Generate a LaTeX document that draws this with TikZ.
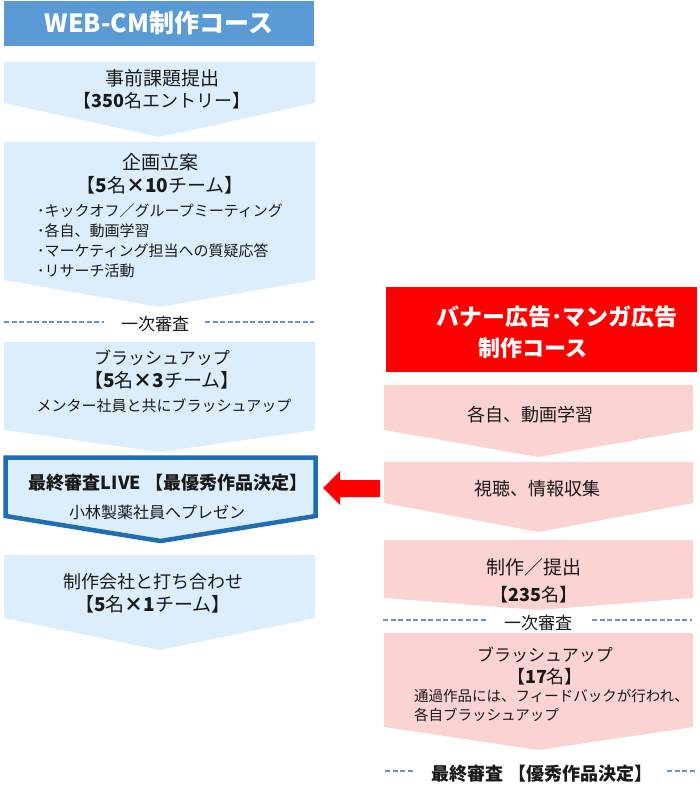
\documentclass[tikz,border=0pt]{standalone}
\usepackage{fontspec}
\setmainfont{Noto Sans CJK JP}
\definecolor{lblue}{HTML}{DCEEFB}
\definecolor{lpink}{HTML}{FBD3D3}
\definecolor{hblue}{HTML}{5B9BD5}
\definecolor{dblue}{HTML}{1F6DB3}
\definecolor{dashc}{HTML}{6E93C2}
\definecolor{hred}{HTML}{FF0000}
\newcommand\chevshape[6]{\fill[#1] (#2,#4) -- (#3,#4) -- (#3,#5) -- ({(#2+#3)/2},#6) -- (#2,#5) -- cycle;}
\begin{document}
\begin{tikzpicture}[x=1pt,y=-1pt,
  fs/.style={font=\fontsize{#1}{#1}\selectfont},
  txt/.style={inner sep=0pt, text=black!90, fs=#1},
  txt/.default=18,
  hdr/.style={inner sep=0pt, text=white, font=\fontsize{#1}{#1}\selectfont\bfseries},
  hdr/.default=24,
  dline/.style={draw=dashc, line width=1.4pt, dash pattern=on 5pt off 2.5pt},
  lbox/.style={lblue},
  rbox/.style={lpink}]
\useasboundingbox (0,0) rectangle (700,794);
\fill[white] (0,0) rectangle (700,794);

% ---- left column ----
\fill[hblue] (4,1) rectangle (314,46);
\node[hdr=25] (hL) at (159,23) {WEB-CM制作コース};

\chevshape{lbox}{4}{315}{62}{103}{137}
\node[txt=19] (l1a) at (162,78) {事前課題提出};
\node[txt=18] (l1b) at (162,101) {【\textbf{350}名エントリー】};

\chevshape{lbox}{4}{315}{142}{280}{307}
\node[txt=19] (l2a) at (160,162) {企画立案};
\node[txt=19] (l2b) at (160,185) {【\textbf{5}名\textbf{×10}チーム】};
\node[txt=15, anchor=west] (l2c) at (37,211) {･キックオフ／グループミーティング};
\node[txt=15, anchor=west] (l2d) at (37,231) {･各自、動画学習};
\node[txt=15, anchor=west] (l2e) at (37,251) {･マーケティング担当への質疑応答};
\node[txt=15, anchor=west] (l2f) at (37,271) {･リサーチ活動};

\node[txt=17] (l1st) at (155,324) {一次審査};
\draw[dline] (4,322) -- (104,322);
\draw[dline] (205,322) -- (314,322);

\chevshape{lbox}{4}{315}{342}{430}{452}
\node[txt=17] (l3a) at (162,358) {ブラッシュアップ};
\node[txt=19] (l3b) at (162,380) {【\textbf{5}名\textbf{×3}チーム】};
\node[txt=15] (l3c) at (164,406) {メンター社員と共にブラッシュアップ};

\draw[fill=lblue, draw=dblue, line width=4.5pt, line join=miter]
  (5.5,457.5) -- (315.5,457.5) -- (315.5,516) -- (160.5,541) -- (5.5,516) -- cycle;
\node[txt=18, font=\fontsize{18}{18}\selectfont\bfseries] (l4a) at (168,483) {最終審査LIVE 【最優秀作品決定】};
\node[txt=16] (l4b) at (157,512) {小林製薬社員へプレゼン};

\chevshape{lbox}{4}{315}{555}{618}{650}
\node[txt=18] (l5a) at (153,582) {制作会社と打ち合わせ};
\node[txt=19] (l5b) at (153,604) {【\textbf{5}名\textbf{×1}チーム】};

% ---- right column ----
\fill[hred] (386,287) rectangle (697,372);
\node[hdr=23] (hR1) at (557,317) {バナー広告･マンガ広告};
\node[hdr=22] (hR2) at (533,348) {制作コース};

\chevshape{rbox}{384}{693}{385}{430}{457}
\node[txt=18] (r1) at (530,415) {各自、動画学習};

\chevshape{rbox}{384}{693}{462}{503}{532}
\node[txt=18] (r2) at (537,489) {視聴、情報収集};

\chevshape{rbox}{384}{693}{540}{598}{610}
\node[txt=19] (r3a) at (534,567) {制作／提出};
\node[txt=18] (r3b) at (534,595) {【\textbf{235}名】};

\node[txt=17] (r1st) at (538,623) {一次審査};
\draw[dline] (383,620) -- (487,620);
\draw[dline] (592,620) -- (692,620);

\chevshape{rbox}{384}{693}{633}{727}{750}
\node[txt=17] (r4a) at (545,655) {ブラッシュアップ};
\node[txt=18] (r4b) at (545,677) {【\textbf{17}名】};
\node[txt=14.5, anchor=west] (r4c) at (414,696) {通過作品には、フィードバックが行われ、};
\node[txt=14.5, anchor=west] (r4d) at (414,715) {各自ブラッシュアップ};

\node[txt=18, font=\fontsize{18}{18}\selectfont\bfseries] (rfin) at (542,774) {最終審査 【優秀作品決定】};
\draw[dline] (385,771) -- (415,771);
\draw[dline] (667,771) -- (697,771);

% ---- red arrow from right to left ----
\fill[hred] (323,488) -- (340,471) -- (340,480) -- (380,480) -- (380,497) -- (340,497) -- (340,505) -- cycle;
\end{tikzpicture}
\end{document}
